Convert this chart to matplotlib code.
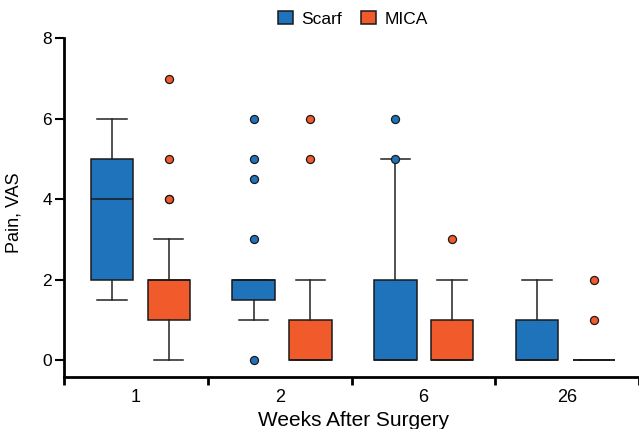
import matplotlib
matplotlib.use("Agg")
import matplotlib.pyplot as plt
from matplotlib.patches import Patch
import numpy as np

plt.rcParams['font.family'] = ['Liberation Sans', 'DejaVu Sans']

# ------------------------------
# Data
# ------------------------------
weeks = ['1', '2', '6', '26']
series = ['Scarf', 'MICA']
colors = ['#1f73bb', '#f15a2b']

# Scarf: whisker low, q1, median, q3, whisker high, outliers
scarf_lo = [1.5, 1, 0, 0]
scarf_q1 = [2, 1.5, 0, 0]
scarf_med = [4, 2, 0, 0]
scarf_q3 = [5, 2, 2, 1]
scarf_hi = [6, 2, 5, 2]
scarf_out = [[], [0, 3, 4.5, 5, 6], [5, 6], []]

# MICA
mica_lo = [0, 0, 0, 0]
mica_q1 = [1, 0, 0, 0]
mica_med = [2, 0, 0, 0]
mica_q3 = [2, 1, 1, 0]
mica_hi = [3, 2, 2, 0]
mica_out = [[4, 4, 5, 7], [5, 6], [3], [1, 2]]


def make_stats(lo, q1, med, q3, hi, out):
    return [dict(whislo=a, q1=b, med=c, q3=d, whishi=e, fliers=f)
            for a, b, c, d, e, f in zip(lo, q1, med, q3, hi, out)]


stats = [make_stats(scarf_lo, scarf_q1, scarf_med, scarf_q3, scarf_hi, scarf_out),
         make_stats(mica_lo, mica_q1, mica_med, mica_q3, mica_hi, mica_out)]

# ------------------------------
# Plot
# ------------------------------
fig = plt.figure(figsize=(6.39, 4.29), dpi=100)
ax = fig.add_axes([64 / 639, 52.3 / 429, 575 / 639, 338.4 / 429])

idx = np.arange(len(weeks))
offsets = [-0.1975, 0.1975]
for st, col, off in zip(stats, colors, offsets):
    pos = 0.031 + 0.986 * idx + off
    ax.bxp(st, positions=pos, widths=0.295, capwidths=0.205,
           patch_artist=True, manage_ticks=False,
           boxprops=dict(facecolor=col, edgecolor='#1a1a1a', linewidth=1.1),
           medianprops=dict(color='#1a1a1a', linewidth=1.1),
           whiskerprops=dict(color='#222222', linewidth=1.1),
           capprops=dict(color='#222222', linewidth=1.1),
           flierprops=dict(marker='o', markerfacecolor=col,
                           markeredgecolor='#1a1a1a', markersize=5.8,
                           markeredgewidth=0.9, linestyle='none'))

ax.set_xlim(-0.5, -0.5 + 575 / 144.3)
ax.set_ylim(-0.415, 8)

for s in ['top', 'right']:
    ax.spines[s].set_visible(False)
for s in ['left', 'bottom']:
    ax.spines[s].set_linewidth(2)

ax.set_yticks([0, 2, 4, 6, 8])
ax.tick_params(axis='y', length=6.5, width=1.5, pad=2, labelsize=12.5)

ax.set_xticks(np.arange(-0.5, len(weeks), 1.0))
ax.set_xticklabels([])
ax.set_xticks(idx, minor=True)
ax.set_xticklabels(weeks, minor=True)
ax.tick_params(axis='x', which='major', length=6, width=2, direction='out')
ax.tick_params(axis='x', which='minor', length=0, pad=9, labelsize=13)

ax.set_ylabel('Pain, VAS', fontsize=13)
ax.yaxis.set_label_coords(-0.073, 0.484)
ax.set_xlabel('Weeks After Surgery', fontsize=15, va='center')
ax.xaxis.set_label_coords(0.503, -0.128)

handles = [Patch(facecolor=c, edgecolor='#1a1a1a', linewidth=1.1, label=s)
           for s, c in zip(series, colors)]
fig.legend(handles=handles, loc='center', bbox_to_anchor=(353 / 639, 1 - 19 / 429),
           ncol=2, frameon=False, fontsize=12.5, handlelength=0.85,
           handleheight=0.8, handletextpad=0.5, columnspacing=1.1)

fig.savefig('out.png', dpi=100)
